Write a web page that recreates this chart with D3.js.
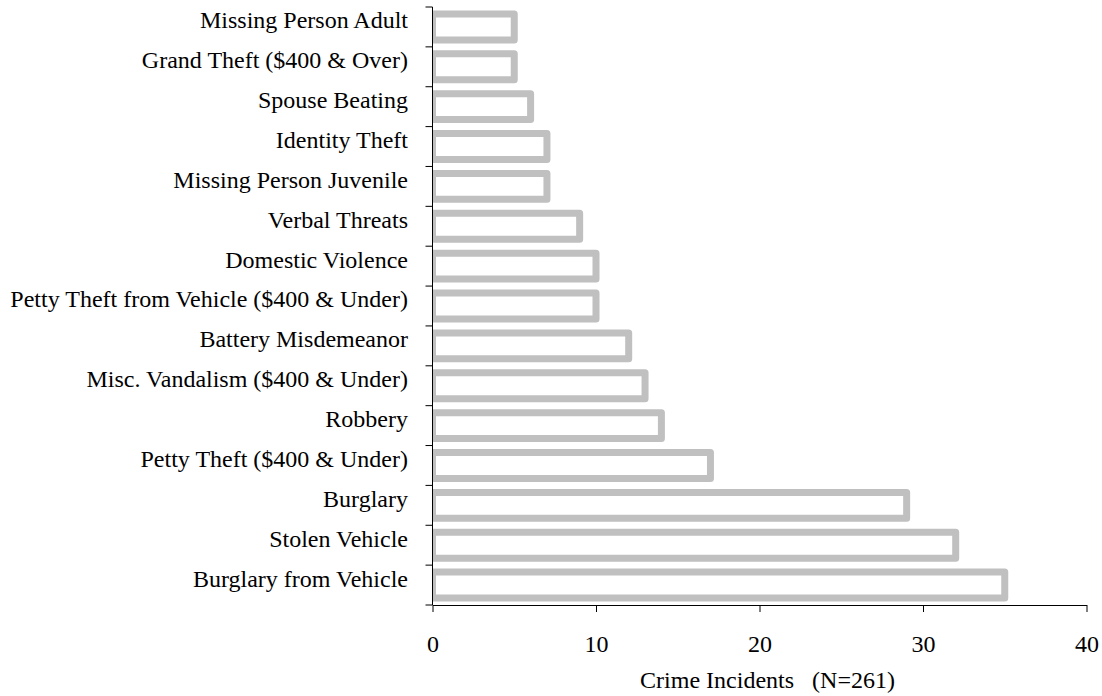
<!DOCTYPE html>
<html>
<head>
<meta charset="utf-8">
<script src="https://cdn.jsdelivr.net/npm/d3@7"></script>
<style>
  body { margin: 0; background: #fff; }
  text { font-family: "Liberation Serif", "Times New Roman", serif; fill: #000; }
</style>
</head>
<body>
<script>
const svgW = 1102;
const svgH = 696;

// categories from top to bottom
const categories = [
  'Missing Person Adult',
  'Grand Theft ($400 & Over)',
  'Spouse Beating',
  'Identity Theft',
  'Missing Person Juvenile',
  'Verbal Threats',
  'Domestic Violence',
  'Petty Theft from Vehicle ($400 & Under)',
  'Battery Misdemeanor',
  'Misc. Vandalism ($400 & Under)',
  'Robbery',
  'Petty Theft ($400 & Under)',
  'Burglary',
  'Stolen Vehicle',
  'Burglary from Vehicle'
];
const incidents = [5, 5, 6, 7, 7, 9, 10, 10, 12, 13, 14, 17, 29, 32, 35];
const xTicks = [0, 10, 20, 30, 40];
const xTitle = 'Crime Incidents   (N=261)';

const margin = { top: 7, right: 15.5, bottom: 91, left: 432.5 };
const w = svgW - margin.left - margin.right;
const h = svgH - margin.top - margin.bottom;
const fontSize = '24px';

const svg = d3.select('body')
  .append('svg')
  .attr('width', svgW)
  .attr('height', svgH);

const g = svg.append('g')
  .attr('transform', `translate(${margin.left}, ${margin.top})`);

const x = d3.scaleLinear().domain([0, 40]).range([0, w]);
const y = d3.scaleBand().domain(categories).range([0, h]).paddingInner(0.35).paddingOuter(0.175);

// clip so bar stroke does not poke left of the axis
svg.append('defs').append('clipPath')
  .attr('id', 'plotclip')
  .append('rect')
  .attr('x', 0).attr('y', -10)
  .attr('width', w + 20).attr('height', h + 20);

const data = categories.map((c, i) => ({ name: c, value: incidents[i] }));

g.append('g')
  .attr('clip-path', 'url(#plotclip)')
  .selectAll('rect')
  .data(data)
  .enter()
  .append('rect')
  .attr('x', 0)
  .attr('y', d => y(d.name))
  .attr('width', d => x(d.value))
  .attr('height', y.bandwidth())
  .attr('fill', '#fff')
  .attr('stroke', '#c0c0c0')
  .attr('stroke-width', 7)
  .attr('stroke-linejoin', 'round');

// y axis: ticks sit on the category boundaries
const yBounds = d3.range(categories.length + 1).map(i => i * h / categories.length);
const yAxis = g.append('g');
yAxis.append('line')
  .attr('x1', 0).attr('x2', 0)
  .attr('y1', 0).attr('y2', h)
  .attr('stroke', '#000');
yAxis.selectAll('.tk')
  .data(yBounds)
  .enter()
  .append('line')
  .attr('x1', -7).attr('x2', 0)
  .attr('y1', d => d).attr('y2', d => d)
  .attr('stroke', '#000');
yAxis.selectAll('.lbl')
  .data(categories)
  .enter()
  .append('text')
  .attr('x', -24.5)
  .attr('y', d => y(d) + y.bandwidth() / 2)
  .attr('dy', '0.06em')
  .attr('text-anchor', 'end')
  .style('font-size', fontSize)
  .text(d => d);

// x axis
const xAxis = d3.axisBottom(x)
  .tickValues(xTicks)
  .tickSize(7)
  .tickSizeOuter(0);

const gx = g.append('g')
  .attr('transform', `translate(0, ${h})`)
  .call(xAxis);
gx.select('.domain').attr('stroke', '#000');
gx.selectAll('.tick line').attr('stroke', '#000');
gx.selectAll('.tick text')
  .attr('y', 47)
  .attr('dy', 0)
  .style('font-family', '"Liberation Serif", "Times New Roman", serif')
  .style('font-size', fontSize)
  .attr('fill', '#000');

g.append('text')
  .attr('x', w / 2 + 8)
  .attr('y', h + 83)
  .attr('text-anchor', 'middle')
  .style('font-size', fontSize)
  .style('white-space', 'pre')
  .text(xTitle);
</script>
</body>
</html>
